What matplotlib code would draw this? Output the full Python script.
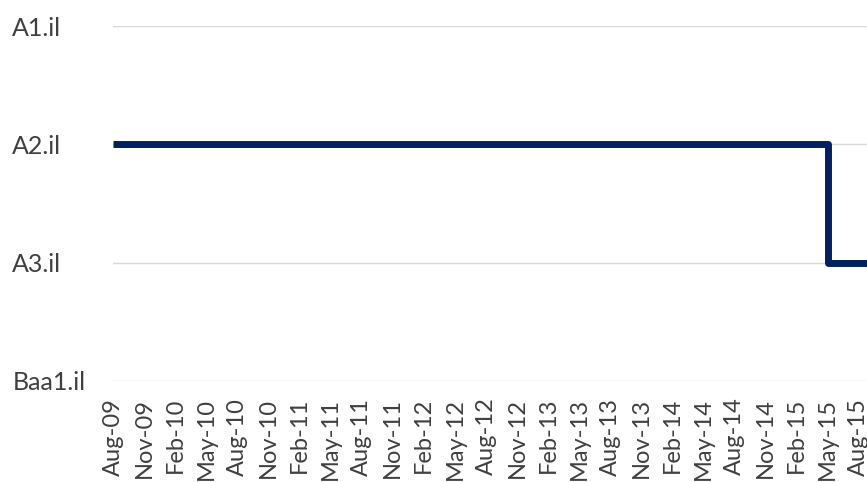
import numpy as np
import pandas as pd
import matplotlib
matplotlib.use("Agg")
import matplotlib.pyplot as plt

# --- data -------------------------------------------------------------------
rating_scale = ["Baa1.il", "A3.il", "A2.il", "A1.il"]      # bottom -> top
change_months = ["2009-08", "2015-05", "2015-12"]          # rating changes (last = end)
change_ratings = ["A2.il", "A3.il", "A3.il"]
tick_start, tick_end = "2009-08", "2015-08"                # quarterly labels

# --- positions ----------------------------------------------------------------
t0 = pd.Period(change_months[0], "M")
xm = np.array([(pd.Period(m, "M") - t0).n for m in change_months])
yv = np.array([rating_scale.index(r) for r in change_ratings])
ticks = pd.period_range(tick_start, tick_end, freq="M")[::3]
tick_x = [(p - t0).n for p in ticks]
tick_lab = [p.strftime("%b-%y") for p in ticks]

fig = plt.figure(figsize=(8.67, 4.82), dpi=100)
ax = fig.add_axes([113 / 867, 101 / 482, 1 - 113 / 867, 355 / 482])
for i in range(len(rating_scale)):
    ax.axhline(i, color="#d9d9d9", lw=1.0, zorder=1)
ax.plot(xm, yv, drawstyle="steps-post", color="#002060", lw=5.0,
        solid_joinstyle="round", solid_capstyle="butt", zorder=3)

ax.set_xlim(0, 754 / 10.36)
ax.set_ylim(0, len(rating_scale) - 1)
ax.set_yticks(range(len(rating_scale)))
ax.set_yticklabels(rating_scale, fontsize=18, family="Lato", color="#404040",
                   ha="left")
ax.tick_params(axis="y", length=0, pad=72.5)
ax.set_xticks(tick_x)
ax.set_xticklabels(tick_lab, rotation=90, fontsize=17, family="Lato",
                   color="#404040", va="top", ha="center")
ax.tick_params(axis="x", length=0, pad=12)
for s in ax.spines.values():
    s.set_visible(False)

fig.savefig("out.png", dpi=100)
